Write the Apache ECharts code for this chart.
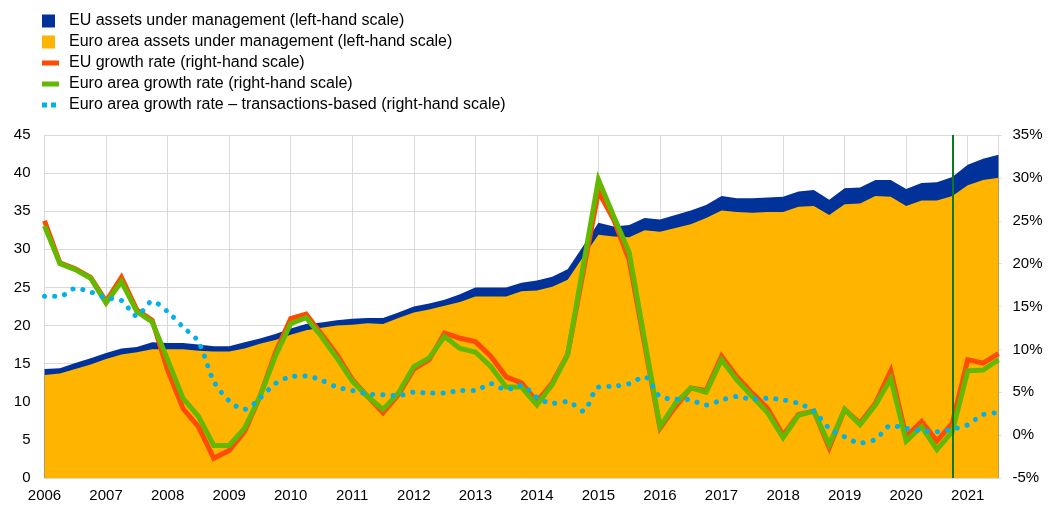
<!DOCTYPE html>
<html>
<head>
<meta charset="utf-8">
<script src="https://cdn.jsdelivr.net/npm/echarts@6/dist/echarts.min.js"></script>
<style>
html,body{margin:0;padding:0;background:#fff;}
#chart{width:1054px;height:506px;}
</style>
</head>
<body>
<div id="chart"></div>
<script>
// Quarterly categories 2006 Q1 .. 2021 Q3
const years = ['2006','2007','2008','2009','2010','2011','2012','2013','2014','2015','2016','2017','2018','2019','2020','2021'];
const quarters = ['Q1','Q2','Q3','Q4'];
const categories = [];
years.forEach(y => quarters.forEach(q => categories.push(y + ' ' + q)));
categories.length = 63;

const euAssets = [14.3,14.4,15.1,15.7,16.4,17.0,17.2,17.8,17.7,17.7,17.5,17.3,17.3,17.8,18.3,18.9,
19.6,20.2,20.4,20.7,20.9,21.0,21.0,21.7,22.5,22.9,23.4,24.1,25.0,25.0,25.0,25.6,
25.9,26.4,27.4,30.4,33.5,33.0,33.2,34.1,33.9,34.5,35.1,35.8,37.0,36.7,36.7,36.8,
36.9,37.6,37.8,36.5,38.0,38.1,39.1,39.1,37.9,38.7,38.8,39.5,41.1,41.9,42.4];

const eaAssets = [13.5,13.7,14.3,14.9,15.6,16.2,16.5,16.9,16.9,16.9,16.7,16.6,16.6,17.0,17.6,18.1,
18.8,19.4,19.7,20.0,20.1,20.3,20.2,21.0,21.7,22.1,22.6,23.1,23.8,23.8,23.8,24.5,
24.6,25.1,26.0,29.0,31.9,31.7,31.6,32.5,32.3,32.8,33.3,34.1,35.1,34.9,34.8,34.9,
34.9,35.6,35.7,34.5,35.9,36.0,37.0,36.9,35.7,36.4,36.4,37.0,38.4,39.1,39.4];

const euGrowth = [25.0,20.1,19.4,18.4,15.6,18.4,14.6,13.4,7.6,3.1,1.0,-2.7,-1.8,0.4,4.5,9.6,
13.6,14.1,11.8,9.4,6.5,4.5,2.6,4.7,7.7,8.8,11.9,11.3,10.9,9.2,6.8,6.1,
3.9,6.1,9.4,18.9,28.4,25.1,20.4,10.6,0.8,3.3,5.5,5.2,9.2,6.8,4.9,3.1,
0.0,2.4,2.8,-1.5,3.0,1.4,3.7,7.5,-0.2,1.6,-0.7,1.4,8.8,8.4,9.5];

const eaGrowth = [24.4,20.0,19.3,18.3,15.4,17.9,14.4,13.2,8.8,4.3,2.2,-1.2,-1.2,0.8,4.5,9.2,
13.0,13.7,11.5,9.0,6.3,4.5,3.0,4.9,8.0,9.0,11.5,10.1,9.7,8.0,5.6,5.6,
3.5,5.9,9.4,19.6,29.8,25.5,21.3,11.1,1.0,3.7,5.5,5.0,8.8,6.4,4.5,2.6,
-0.3,2.3,2.8,-1.1,3.0,1.2,3.5,6.6,-0.7,1.0,-1.7,0.4,7.5,7.6,8.8];

const eaTransGrowth = [16.2,16.2,17.1,16.7,16.0,15.7,13.9,15.6,14.4,12.6,10.9,6.3,4.0,3.0,4.3,6.0,
6.8,6.9,6.4,5.6,5.2,4.8,4.7,4.6,5.0,4.9,4.9,5.2,5.2,6.0,5.3,5.8,
4.4,3.7,3.9,2.8,5.6,5.7,6.0,6.8,4.5,4.2,4.1,3.5,4.1,4.5,4.2,4.3,
4.1,3.7,2.8,0.8,-0.2,-0.9,-0.5,1.1,0.8,0.5,0.4,0.7,1.2,2.4,2.6];

const leftTicks = {min: 0, max: 45, interval: 5};
const rightTicks = {min: -5, max: 35, interval: 5};
const markerQuarter = '2020 Q4';

const names = [
  'EU assets under management (left-hand scale)',
  'Euro area assets under management (left-hand scale)',
  'EU growth rate (right-hand scale)',
  'Euro area growth rate (right-hand scale)',
  'Euro area growth rate \u2013 transactions-based (right-hand scale)'
];

const FONT = 'Liberation Sans, Arial, sans-serif';
const GRID = '#d9d9d9';
const chart = echarts.init(document.getElementById('chart'), null, {renderer: 'canvas'});

const squareIcon = 'path://M0,0h13v13h-13z M17,0 L17,0.01';
const lineIcon = 'path://M0,4h17v5h-17z M0,0 L0,0.01 M0,13 L0,13.01';
const dotIcon = 'path://M0,4h5v5h-5z M9,4h5v5h-5z M0,0 L0,0.01 M17,13 L17,13.01';

chart.setOption({
  animation: false,
  backgroundColor: '#fff',
  textStyle: {fontFamily: FONT},
  legend: {
    orient: 'vertical',
    left: 42,
    top: 13,
    padding: 0,
    itemWidth: 17,
    itemHeight: 13,
    itemGap: 5,
    selectedMode: false,
    itemStyle: {borderWidth: 0},
    textStyle: {fontFamily: FONT, fontSize: 16, color: '#000', padding: [0,0,0,5]},
    data: [
      {name: names[0], icon: squareIcon},
      {name: names[1], icon: squareIcon},
      {name: names[2], icon: lineIcon},
      {name: names[3], icon: lineIcon},
      {name: names[4], icon: dotIcon}
    ]
  },
  grid: {left: 44.5, right: 55.5, top: 135, bottom: 28, containLabel: false},
  xAxis: {
    type: 'category',
    data: categories,
    boundaryGap: false,
    axisLine: {show: true, lineStyle: {color: GRID, width: 1}},
    axisTick: {show: false},
    axisLabel: {
      interval: 3,
      margin: 10,
      fontSize: 15,
      color: '#000',
      fontFamily: FONT,
      formatter: v => v.slice(0, 4)
    },
    splitLine: {show: true, interval: 3, lineStyle: {color: GRID, width: 1}}
  },
  yAxis: [
    {
      type: 'value',
      position: 'left',
      min: leftTicks.min, max: leftTicks.max, interval: leftTicks.interval,
      axisLine: {show: true, lineStyle: {color: GRID}},
      axisTick: {show: false},
      axisLabel: {fontSize: 15, color: '#000', fontFamily: FONT, margin: 14},
      splitLine: {show: true, lineStyle: {color: GRID, width: 1}}
    },
    {
      type: 'value',
      position: 'right',
      min: rightTicks.min, max: rightTicks.max, interval: rightTicks.interval,
      axisLine: {show: true, lineStyle: {color: GRID}},
      axisTick: {show: true, length: 3, lineStyle: {color: GRID}},
      axisLabel: {fontSize: 15, color: '#000', fontFamily: FONT, margin: 14, formatter: '{value}%'},
      splitLine: {show: false}
    }
  ],
  series: [
    {
      name: names[0], type: 'line', yAxisIndex: 0, data: euAssets,
      symbol: 'none', color: '#003299',
      lineStyle: {width: 0}, areaStyle: {color: '#003299', opacity: 1}
    },
    {
      name: names[1], type: 'line', yAxisIndex: 0, data: eaAssets,
      symbol: 'none', color: '#FFB400',
      lineStyle: {width: 0}, areaStyle: {color: '#FFB400', opacity: 1}
    },
    {
      name: names[2], type: 'line', yAxisIndex: 1, data: euGrowth,
      symbol: 'none', color: '#FF4B00',
      lineStyle: {width: 5, color: '#FF4B00', join: 'miter'},
      markLine: {
        silent: true, symbol: 'none', label: {show: false},
        lineStyle: {color: '#0B7A1E', width: 2, type: 'solid'},
        data: [{xAxis: markerQuarter}]
      }
    },
    {
      name: names[3], type: 'line', yAxisIndex: 1, data: eaGrowth,
      symbol: 'none', color: '#65B800',
      lineStyle: {width: 5, color: '#65B800', join: 'miter'}
    },
    {
      name: names[4], type: 'line', yAxisIndex: 1, data: eaTransGrowth,
      symbol: 'none', color: '#00B1EA', smooth: 0.3,
      lineStyle: {width: 5, color: '#00B1EA', type: [0.1, 10], cap: 'round'}
    }
  ]
});
</script>
</body>
</html>
